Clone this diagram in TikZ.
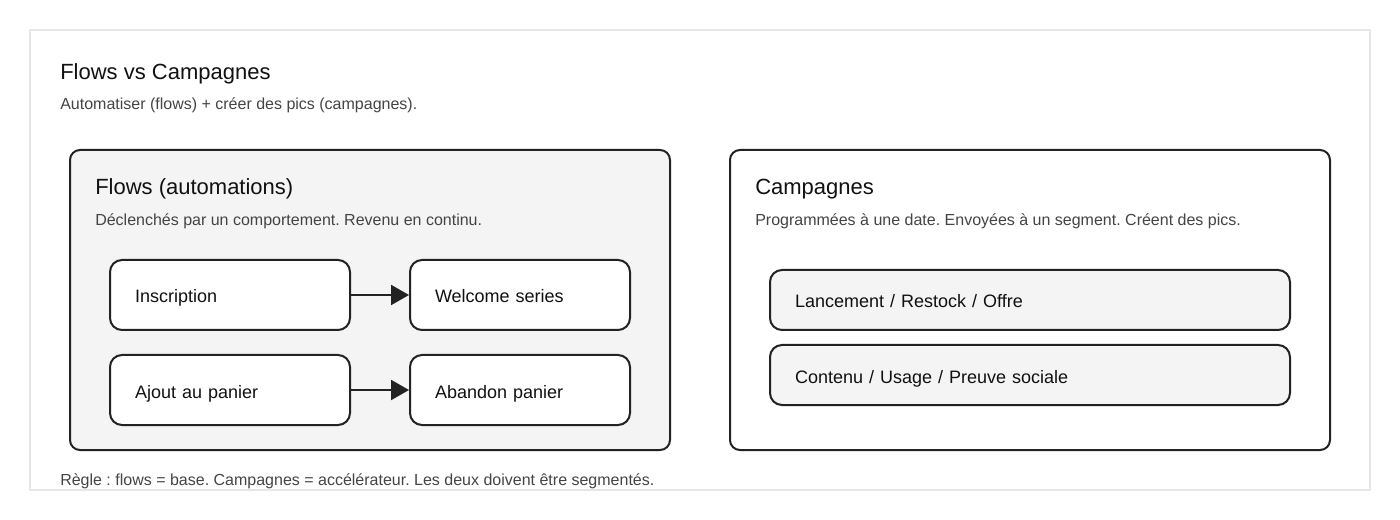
\documentclass[tikz,border=0pt]{standalone}
\usepackage{fontspec}
\setmainfont{Liberation Sans}
\usetikzlibrary{arrows.meta}
\frenchspacing
\definecolor{frame}{HTML}{E6E6E6}
\definecolor{ink}{HTML}{222222}
\definecolor{txt}{HTML}{111111}
\definecolor{sub}{HTML}{444444}
\definecolor{panelfill}{HTML}{F4F4F4}
\tikzset{
  panel/.style={draw=ink, line width=1.5pt, rounded corners=7.5pt, minimum width=450pt, minimum height=225pt, inner sep=0pt},
  flowbox/.style={draw=ink, line width=1.5pt, fill=white, rounded corners=9pt, minimum width=180pt, minimum height=52.5pt, text width=142.5pt, inner xsep=18.75pt, inner ysep=0pt, text height=14pt, text depth=2pt, align=left, font=\fontsize{13.5pt}{16pt}\selectfont, text=txt},
  campbox/.style={draw=ink, line width=1.5pt, fill=panelfill, rounded corners=9pt, minimum width=390pt, minimum height=45pt, text width=352.5pt, inner xsep=18.75pt, inner ysep=0pt, text height=14pt, text depth=2pt, align=left, font=\fontsize{13.5pt}{16pt}\selectfont, text=txt},
  titletext/.style={anchor=base west, inner sep=0pt, font=\fontsize{16.5pt}{20pt}\selectfont, text=txt},
  subtext/.style={anchor=base west, inner sep=0pt, font=\fontsize{12pt}{14pt}\selectfont, text=sub},
  flowarrow/.style={draw=ink, line width=1.5pt, -{Triangle[length=13.5pt,width=15pt]}}
}
\begin{document}
\begin{tikzpicture}[x=0.75pt, y=-0.75pt]
\useasboundingbox (0,0) rectangle (1400,520);
\draw[frame, line width=1.5pt] (30,30) rectangle (1370,490);
\node[titletext] (title) at (60,80) {Flows vs Campagnes};
\node[subtext] (subtitle) at (60,110) {Automatiser (flows) + créer des pics (campagnes).};
% left panel
\node[panel, fill=panelfill] (left) at (370,300) {};
\node[titletext] (lefttitle) at (95,195) {Flows (automations)};
\node[subtext] (leftsub) at (95,226) {Déclenchés par un comportement. Revenu en continu.};
\node[flowbox] (ins) at (230,295) {Inscription};
\node[flowbox, minimum width=165pt, text width=127.5pt] (wel) at (520,295) {Welcome series};
\node[flowbox] (ajo) at (230,390) {Ajout au panier};
\node[flowbox, minimum width=165pt, text width=127.5pt] (aba) at (520,390) {Abandon panier};
\draw[flowarrow] (ins.east) -- (wel.west);
\draw[flowarrow] (ajo.east) -- (aba.west);
% right panel
\node[panel, fill=white] (right) at (1030,300) {};
\node[titletext] (righttitle) at (755,195) {Campagnes};
\node[subtext] (rightsub) at (755,226) {Programmées à une date. Envoyées à un segment. Créent des pics.};
\node[campbox] (lan) at (1030,300) {Lancement / Restock / Offre};
\node[campbox] (con) at (1030,375) {Contenu / Usage / Preuve sociale};
% footer
\node[subtext] (footer) at (60,485) {Règle : flows = base. Campagnes = accélérateur. Les deux doivent être segmentés.};
\end{tikzpicture}
\end{document}
